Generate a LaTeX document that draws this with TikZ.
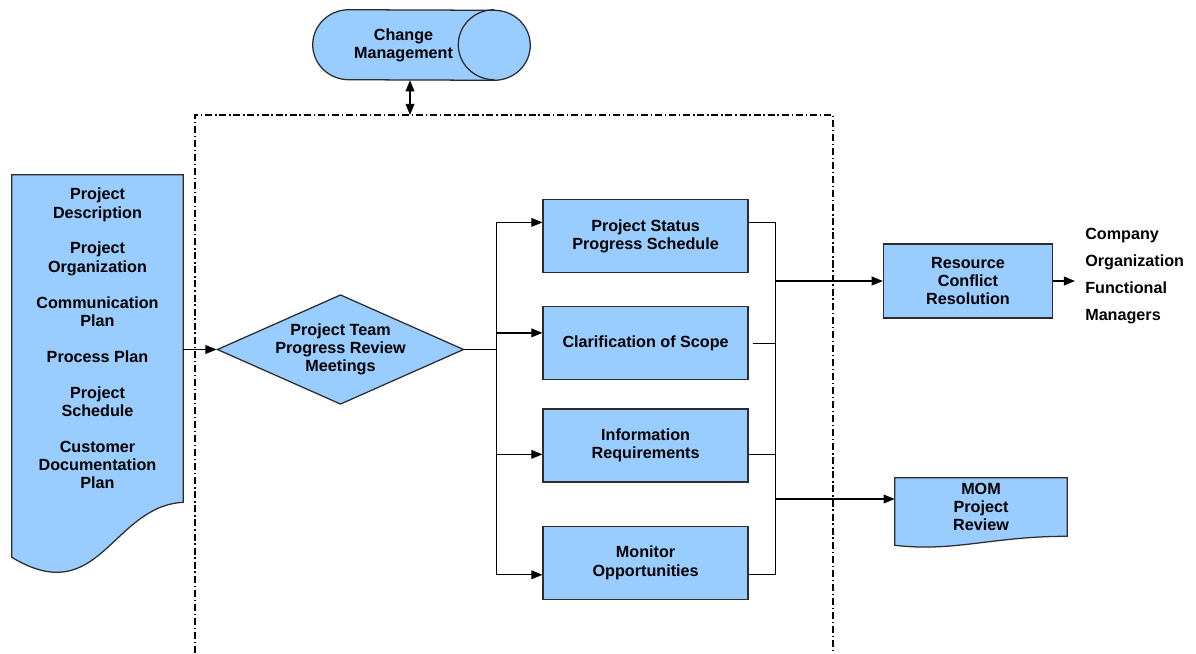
\documentclass[tikz,border=0pt]{standalone}
\usepackage{fontspec}
\usepackage{tikz}
\usetikzlibrary{shapes.geometric, arrows.meta, positioning, calc, backgrounds}
\newfontfamily\diagfont{Liberation Sans}
\definecolor{boxBlue}{RGB}{153,204,255}
\definecolor{edgeGray}{RGB}{45,45,45}

\begin{document}
\begin{tikzpicture}[
  node distance=0.8cm,
  font=\diagfont\bfseries\fontsize{11.5}{13}\selectfont,
  task/.style={
    rectangle,
    draw=edgeGray,
    line width=0.9pt,
    fill=boxBlue,
    minimum width=5.125cm,
    minimum height=1.825cm,
    align=center
  },
  meeting/.style={
    diamond,
    draw=edgeGray,
    line width=0.9pt,
    fill=boxBlue,
    shape aspect=2.25,
    inner sep=0pt,
    minimum width=6.025cm,
    minimum height=2.675cm,
    align=center
  },
  docpart/.style={rectangle, inner sep=0pt, align=center},
  docline/.style={draw=edgeGray, line width=0.9pt, fill=boxBlue},
  wire/.style={line width=0.9pt, color=black},
  arr/.style={wire, -{Triangle[length=0.28cm, width=0.22cm]}},
  dual/.style={wire, {Triangle[length=0.28cm, width=0.22cm]}-{Triangle[length=0.28cm, width=0.22cm]}},
  frame/.style={line width=0.8pt, dash pattern=on 5pt off 2pt on 1pt off 2pt},
]
\useasboundingbox (0,0) rectangle (29.9,-16.325);

% dash-dot boundary
\draw[frame] (4.875,-16.325) -- (4.875,-2.875) -- (20.825,-2.875) -- (20.825,-16.325);
\coordinate (gate) at (10.25,-2.875);

\node[docpart, minimum width=4.525cm, minimum height=1.75cm]
(change) at (10.0875,-1.125) {Change\\Management};

\node[docpart, minimum width=4.275cm, minimum height=8.175cm]
(inputs) at (2.4375,-8.4625) {Project\\Description\\[12.5pt]Project\\Organization\\[12.5pt]Communication\\Plan\\[12.5pt]Process Plan\\[12.5pt]Project\\Schedule\\[12.5pt]Customer\\Documentation\\Plan};

\node[meeting] (review) at (8.5125,-8.7375) {Project Team\\Progress Review\\Meetings};

\node[task] (status) at (16.14,-5.9) {Project Status\\Progress Schedule};
\node[task, below=0.825cm of status] (scope) {Clarification of Scope};
\node[task, below=0.7cm of scope] (info) {Information\\Requirements};
\node[task, below=1.075cm of info] (monitor) {Monitor\\Opportunities};

\node[task, minimum width=4.225cm, minimum height=1.85cm]
(conflict) at (24.2,-7.025) {Resource\\Conflict\\Resolution};

\node[anchor=west, inner sep=0.25cm, align=left,
  font=\diagfont\bfseries\fontsize{11.5}{19.4}\selectfont]
(owners) at (26.875,-6.9) {Company\\Organization\\Functional\\Managers};

\node[docpart, minimum width=4.3cm, minimum height=1.45cm]
(mom) at (24.525,-12.675) {MOM\\Project\\Review};

% shape outlines
\begin{scope}[on background layer]
\draw[docline] ($(change.north west)+(0.9,0)$)
  arc[start angle=90, end angle=270, x radius=0.9cm, y radius=0.875cm]
  -- (change.south east)
  arc[start angle=-90, end angle=90, x radius=0.9cm, y radius=0.875cm] -- cycle;
\draw[draw=edgeGray, line width=0.9pt] (change.north east)
  arc[start angle=90, end angle=270, x radius=0.9cm, y radius=0.875cm];
\draw[docline] (inputs.north west) -- (inputs.north east) -- (inputs.south east)
  .. controls ($(inputs.south east)+(-1.8,-0.1)$) and ($(inputs.south west)+(2.2,-2.7)$)
  .. ($(inputs.south west)+(0,-1.375)$) -- cycle;
\draw[docline] (mom.north west) -- (mom.north east) -- (mom.south east)
  .. controls ($(mom.south east)+(-1.9,0)$) and ($(mom.south west)+(1.5,-0.4)$)
  .. ($(mom.south west)+(0,-0.225)$) -- cycle;
\end{scope}

\draw[dual] (change.south -| gate) -- (gate);

\draw[arr] (inputs.east |- review.west) -- (review.west);

\coordinate[right=0.8cm of review.east] (fanout);
\coordinate (in1) at ($(status.west)+(0,0.34)$);
\coordinate (in2) at ($(scope.west)+(0,0.26)$);
\coordinate (in3) at ($(info.west)+(0,-0.22)$);
\coordinate (in4) at ($(monitor.west)+(0,-0.3)$);

\draw[wire] (review.east) -- (fanout);
\draw[wire] (fanout |- in1) -- (fanout |- in4);
\draw[arr] (fanout |- in1) -- (in1);
\draw[arr] (fanout |- in2) -- (in2);
\draw[arr] (fanout |- in3) -- (in3);
\draw[arr] (fanout |- in4) -- (in4);

\coordinate[right=0.675cm of status.east] (fanin);
\draw[wire] (in1 -| status.east) -- (in1 -| fanin);
\draw[wire] ($(scope.east)+(0.1,0)$) -- (scope.east -| fanin);
\draw[wire] (in3 -| info.east) -- (in3 -| fanin);
\draw[wire] (in4 -| monitor.east) -- (in4 -| fanin);
\draw[wire] (in1 -| fanin) -- (in4 -| fanin);

\draw[arr] (fanin |- conflict.west) -- (conflict.west);
\coordinate (momin) at ($(mom.west)+(0,0.2)$);
\draw[arr] (fanin |- momin) -- (momin);
\draw[arr] (conflict.east) -- (owners.west |- conflict.east);

\end{tikzpicture}
\end{document}
